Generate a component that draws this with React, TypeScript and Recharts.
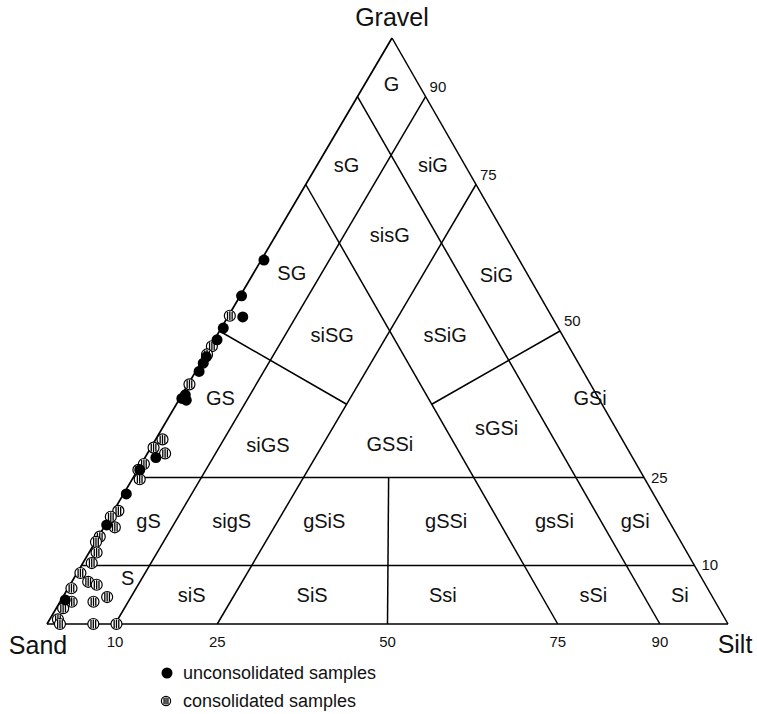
import React from 'react';
import { ScatterChart, Scatter, XAxis, YAxis, ReferenceLine } from 'recharts';

// sample composition: gravel % and silt % (sand is the rest)
const unconsolidatedGravel = [62.1, 56.0, 52.4, 50.5, 48.5, 45.6, 44.5, 43.1, 39.1, 38.5, 38.2, 28.4, 26.3, 22.2, 16.9, 4.1];
const unconsolidatedSilt = [0.4, 0.2, 2.2, 0.3, 0.4, 0.3, 0.4, 0.5, 0.5, 0.3, 1.1, 1.6, 0.3, 0.4, 0.2, 0.6];

const consolidatedGravel = [52.6, 47.4, 46.0, 40.9, 31.5, 30.1, 29.1, 27.3, 26.3, 24.7, 19.3, 18.3, 16.5, 14.9, 14.0, 12.2, 10.4, 8.7, 7.2, 6.7, 6.1, 3.8, 2.7, 3.8, 4.6, 0.8, 0, 0, 0];
const consolidatedSilt = [0.2, 0.2, 0.2, 0.2, 1.0, 0.4, 2.6, 0.4, 0.1, 1.1, 0.7, 0.1, 1.6, 0.2, 0.1, 1.1, 1.3, 0.5, 2.4, 3.9, 0.5, 1.7, 1.0, 4.9, 6.5, 1.2, 1.9, 6.8, 10.2];

// class names and where they sit (gravel %, silt %)
const regionNames = ['G', 'sG', 'siG', 'sisG', 'SG', 'SiG', 'siSG', 'sSiG', 'GS', 'GSi', 'siGS', 'GSSi', 'sGSi', 'gS', 'sigS', 'gSiS', 'gSSi', 'gsSi', 'gSi', 'S', 'siS', 'SiS', 'Ssi', 'sSi', 'Si'];
const regionGravel = [92.2, 78.3, 78.3, 66.4, 59.9, 59.6, 49.3, 49.3, 38.6, 38.6, 30.5, 30.7, 33.4, 17.6, 17.6, 17.6, 17.6, 17.6, 17.5, 7.8, 5.0, 5.0, 5.0, 5.0, 5.0];
const regionSilt = [3.9, 4.3, 17.0, 16.7, 5.6, 35.8, 16.9, 33.5, 5.9, 60.2, 17.0, 34.8, 49.1, 6.0, 18.2, 31.8, 49.7, 65.6, 77.5, 7.9, 18.7, 36.4, 55.6, 77.7, 90.4];

const gravelTicks = [90, 75, 50, 25, 10];
const siltTicks = [10, 25, 50, 75, 90];

const cornerNames = ['Gravel', 'Sand', 'Silt'];
const cornerGravel = [100, 0, 0];
const cornerSilt = [0, 0, 100];

// class boundaries: [gravel1, silt1, gravel2, silt2]
const boundaries = [
  [100, 0, 0, 0],
  [0, 0, 0, 100],
  [0, 100, 100, 0],
  [90, 0, 0, 90],
  [90, 10, 0, 10],
  [75, 0, 0, 75],
  [75, 25, 0, 25],
  [25, 0, 25, 75],
  [10, 0, 10, 90],
  [50, 0, 37.5, 25],
  [50, 50, 37.5, 37.5],
  [25, 37.5, 0, 50],
];

const APEX = 0.5066; // the gravel corner sits a bit right of centre in the original
const FONT = '"Liberation Sans", Arial, Helvetica, sans-serif';

const toXY = (g: number, si: number) => ({ x: si / 100 + (g / 100) * APEX, y: g / 100 });

const unconsolidated = unconsolidatedGravel.map((g, i) => toXY(g, unconsolidatedSilt[i]));
const consolidated = consolidatedGravel.map((g, i) => toXY(g, consolidatedSilt[i]));
const regions = regionNames.map((label, i) => ({ ...toXY(regionGravel[i], regionSilt[i]), label }));
const gravelLabels = gravelTicks.map((g) => ({ ...toXY(g, 100 - g), label: String(g), g }));
const siltLabels = siltTicks.map((si) => ({ ...toXY(0, si), label: String(si) }));
const corners = cornerNames.map((label, i) => ({ ...toXY(cornerGravel[i], cornerSilt[i]), label }));

const cornerOffset: Record<string, [number, number]> = {
  Gravel: [0, -12],
  Sand: [-9, 30],
  Silt: [7, 29],
};

const SolidDot = ({ cx, cy }: any) => <circle cx={cx} cy={cy} r={5.5} fill="#000" />;

const StripedDot = ({ cx, cy, r = 5.5 }: any) => {
  const offs = [-r * 0.42, 0, r * 0.42];
  return (
    <g>
      <circle cx={cx} cy={cy} r={r} fill="#fff" stroke="#000" strokeWidth={1.2} />
      {offs.map((d) => {
        const h = Math.sqrt(r * r - d * d) - 1;
        return <line key={d} x1={cx + d} x2={cx + d} y1={cy - h} y2={cy + h} stroke="#000" strokeWidth={1.3} />;
      })}
    </g>
  );
};

const RegionText = ({ cx, cy, payload }: any) => (
  <text x={cx} y={cy} dy="0.35em" textAnchor="middle" fontSize={20} fontFamily={FONT} fill="#111">
    {payload.label}
  </text>
);

const GravelTickText = ({ cx, cy, payload }: any) => (
  <text x={cx + (payload.g >= 50 ? 4 : 7)} y={cy + (payload.g >= 50 ? -5 : 5)} fontSize={15} fontFamily={FONT} fill="#111">
    {payload.label}
  </text>
);

const SiltTickText = ({ cx, cy, payload }: any) => (
  <text x={cx} y={cy + 23} textAnchor="middle" fontSize={15} fontFamily={FONT} fill="#111">
    {payload.label}
  </text>
);

const CornerText = ({ cx, cy, payload }: any) => {
  const [dx, dy] = cornerOffset[payload.label];
  return (
    <text x={cx + dx} y={cy + dy} textAnchor="middle" fontSize={25} fontFamily={FONT} fill="#111">
      {payload.label}
    </text>
  );
};

export default function App() {
  return (
    <div style={{ position: 'absolute', left: 0, top: 0, width: 757, height: 714, background: '#fff' }}>
      <ScatterChart width={757} height={714} margin={{ top: 38, right: 29, bottom: 90, left: 47 }}>
        <XAxis type="number" dataKey="x" domain={[0, 1]} hide />
        <YAxis type="number" dataKey="y" domain={[0, 1]} hide />
        {boundaries.map(([g1, s1, g2, s2], i) => (
          <ReferenceLine
            key={i}
            segment={[toXY(g1, s1), toXY(g2, s2)]}
            stroke="#000"
            strokeWidth={i === 0 || i === 1 ? 1.7 : 1.5}
            ifOverflow="visible"
          />
        ))}
        <Scatter data={regions} shape={RegionText} isAnimationActive={false} />
        <Scatter data={gravelLabels} shape={GravelTickText} isAnimationActive={false} />
        <Scatter data={siltLabels} shape={SiltTickText} isAnimationActive={false} />
        <Scatter data={corners} shape={CornerText} isAnimationActive={false} />
        <Scatter name="consolidated samples" data={consolidated} shape={StripedDot} isAnimationActive={false} />
        <Scatter name="unconsolidated samples" data={unconsolidated} shape={SolidDot} isAnimationActive={false} />
      </ScatterChart>
      <svg width={260} height={52} style={{ position: 'absolute', left: 150, top: 660, overflow: 'visible' }}>
        <circle cx={17} cy={13} r={5.5} fill="#000" />
        <text x={33} y={19} fontSize={18} fontFamily={FONT} fill="#111">unconsolidated samples</text>
        <StripedDot cx={16} cy={41} r={4.6} />
        <text x={33} y={47} fontSize={18} fontFamily={FONT} fill="#111">consolidated samples</text>
      </svg>
    </div>
  );
}
